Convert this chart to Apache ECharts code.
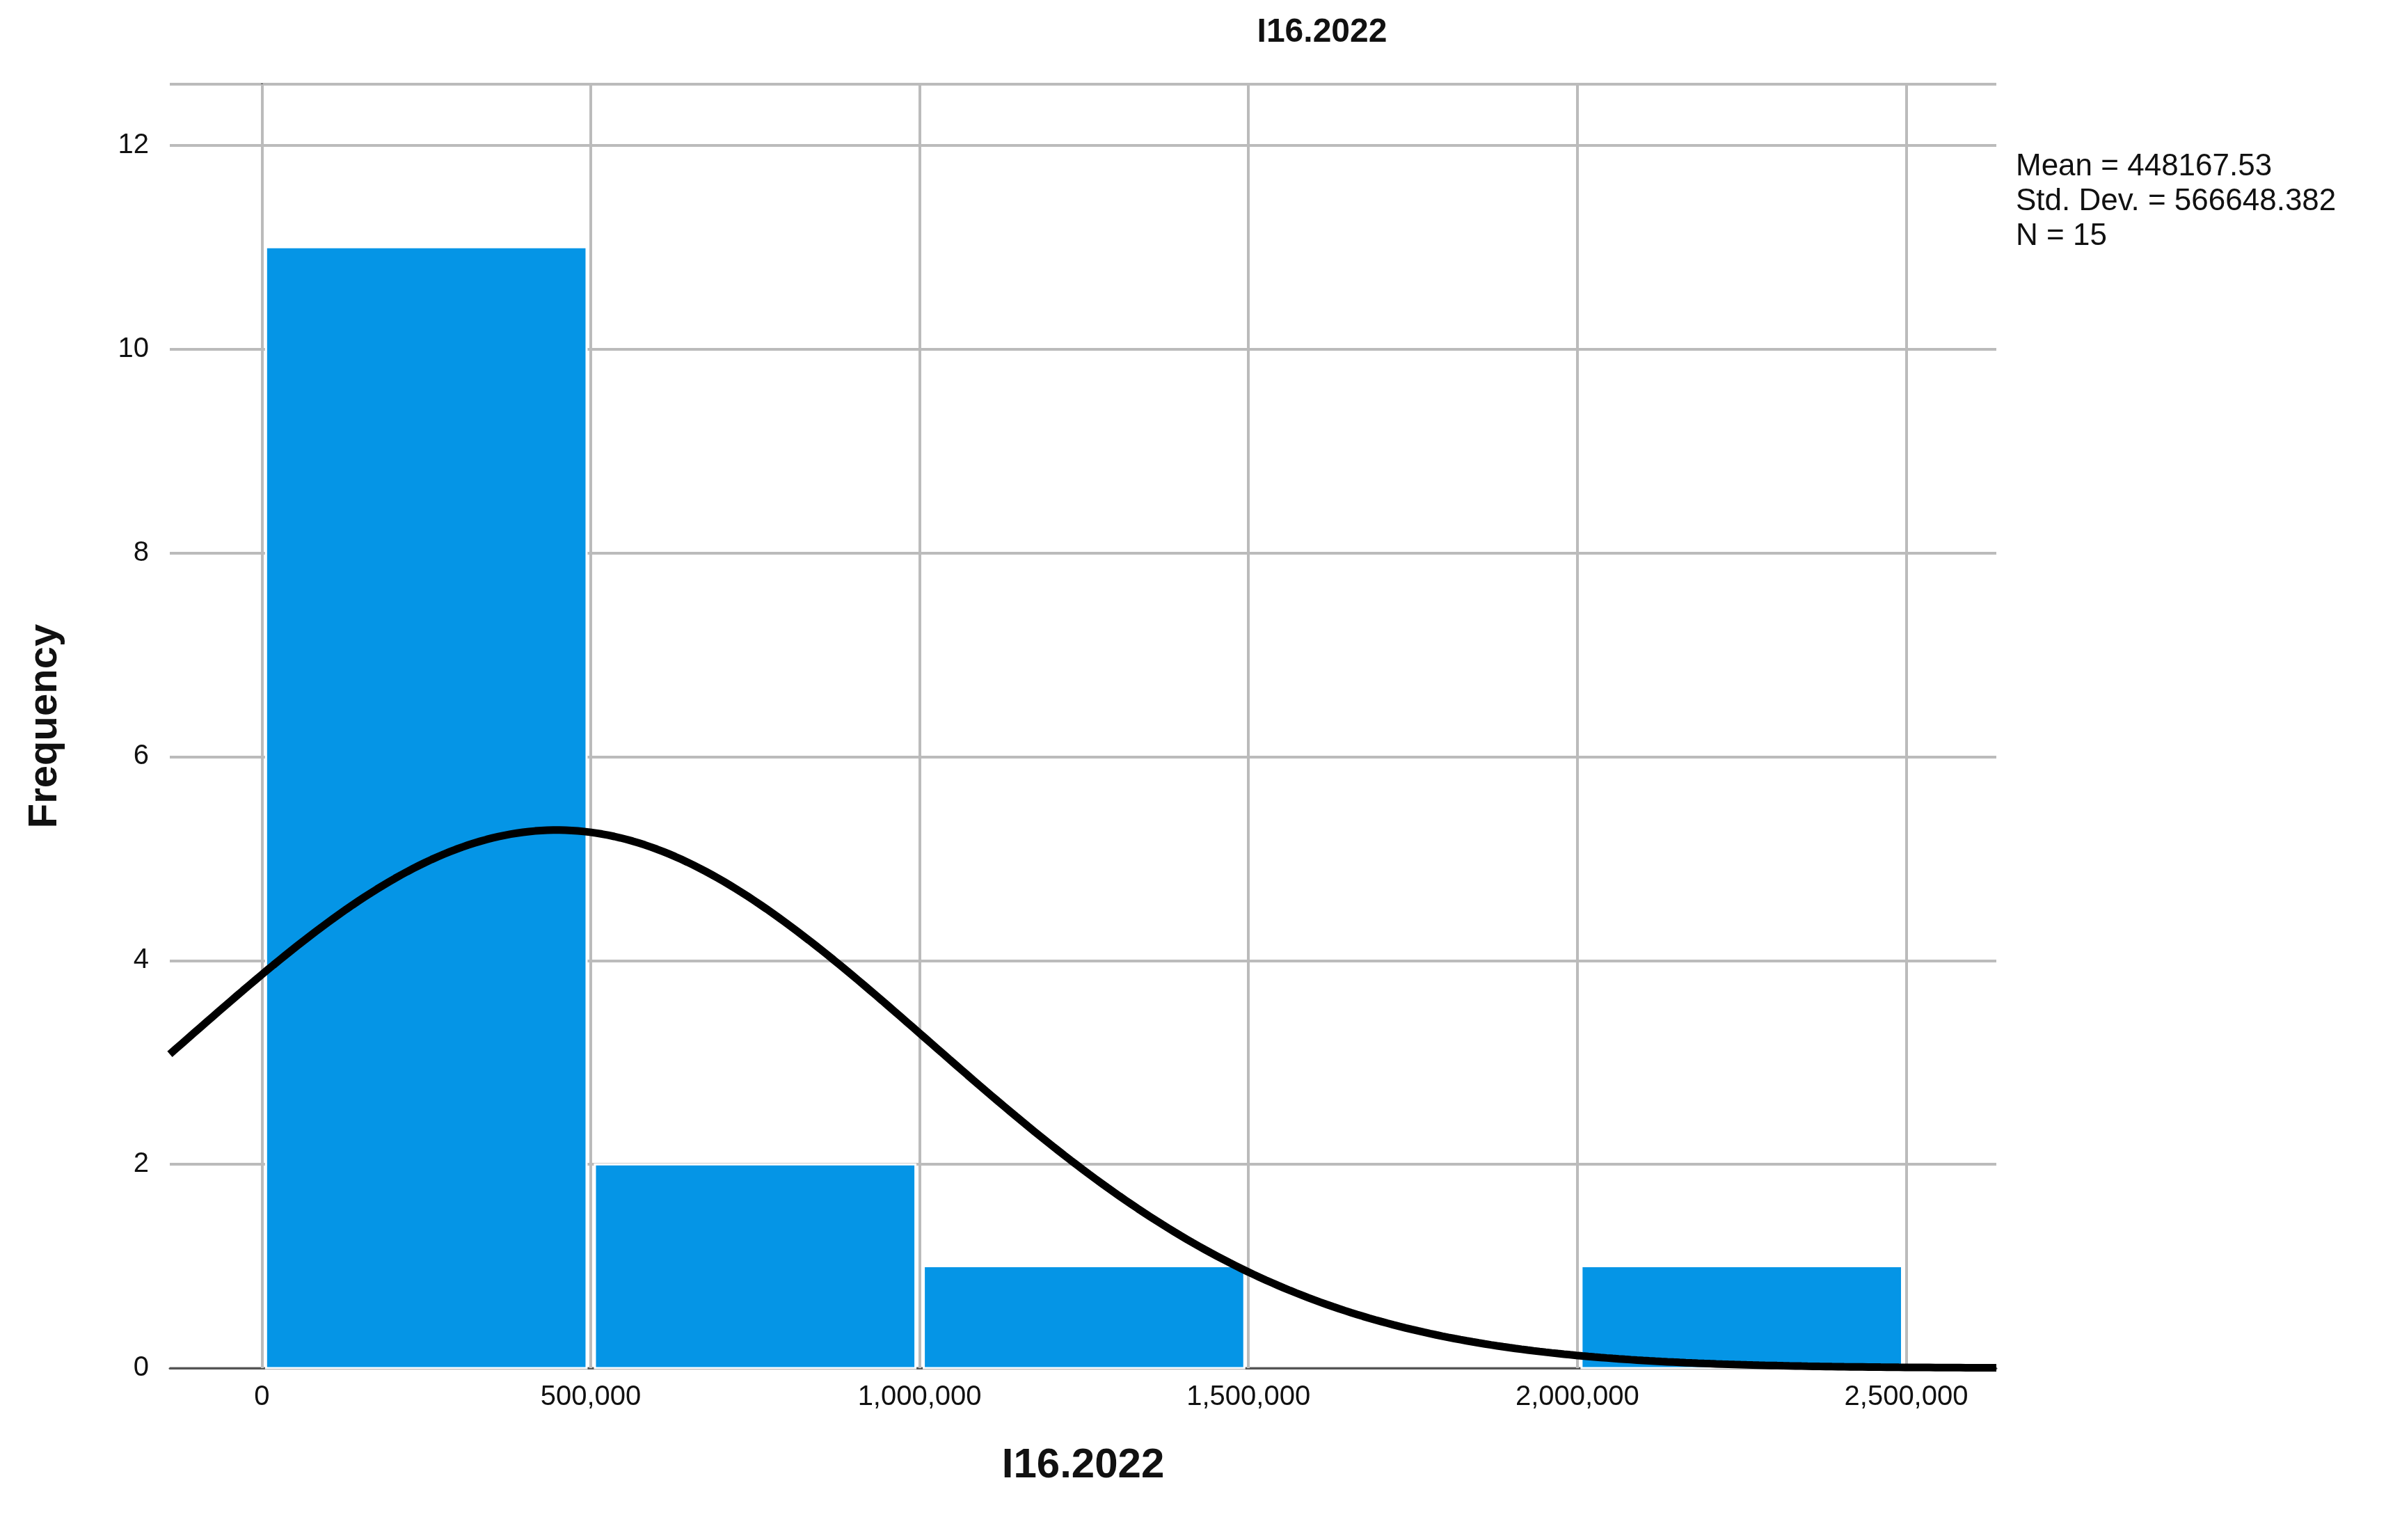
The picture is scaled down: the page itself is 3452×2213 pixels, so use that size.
<!DOCTYPE html>
<html><head><meta charset="utf-8">
<script src="https://cdn.jsdelivr.net/npm/echarts@6/dist/echarts.min.js"></script>
<style>html,body{margin:0;padding:0;background:#fff}#c{width:3452px;height:2213px}</style>
</head><body><div id="c"></div>
<script>
const binStarts = [0, 500000, 1000000, 2000000];
const binWidth = 500000;
const counts = [11, 2, 1, 1];
const xTicks = [0, 500000, 1000000, 1500000, 2000000, 2500000];
const mean = 448167.53, sd = 566648.382, n = 15;
const xMin = -140000, xMax = 2637000;
const curve = [];
for (let i = 0; i <= 300; i++) {
  const x = xMin + (xMax - xMin) * i / 300;
  const y = n * binWidth / (sd * Math.sqrt(2 * Math.PI)) * Math.exp(-0.5 * ((x - mean) / sd) ** 2);
  curve.push([x, y]);
}
const bars = binStarts.map((s, i) => [s, s + binWidth, counts[i]]);
const chart = echarts.init(document.getElementById('c'));
chart.setOption({
  animation: false,
  title: { text: 'I16.2022', left: 1895, top: 18, textAlign: 'center',
    textStyle: { fontFamily: 'Liberation Sans', fontSize: 48, fontWeight: 'bold', color: '#111' } },
  graphic: [{ type: 'text', left: 2897, top: 215,
    style: { text: 'Mean = 448167.53\nStd. Dev. = 566648.382\nN = 15', font: '44px "Liberation Sans"', fill: '#111', lineHeight: 50 } }],
  grid: { left: 244, right: 583, top: 121, bottom: 247 },
  xAxis: { type: 'value', min: xMin, max: xMax,
    name: 'I16.2022', nameLocation: 'middle', nameGap: 110,
    nameTextStyle: { fontFamily: 'Liberation Sans', fontSize: 60, fontWeight: 'bold', color: '#111' },
    axisLine: { onZero: false, lineStyle: { color: '#555', width: 3 } },
    axisTick: { show: false }, splitLine: { show: false },
    axisLabel: { customValues: xTicks, fontFamily: 'Liberation Sans', fontSize: 40, color: '#111', margin: 22 } },
  yAxis: { type: 'value', min: 0, max: 12.6, interval: 2,
    name: 'Frequency', nameLocation: 'middle', nameGap: 150,
    nameTextStyle: { fontFamily: 'Liberation Sans', fontSize: 58, fontWeight: 'bold', color: '#111' },
    axisLine: { show: true, lineStyle: { color: '#555', width: 3 } },
    axisTick: { show: false },
    axisLabel: { fontFamily: 'Liberation Sans', fontSize: 40, color: '#111', margin: 30,
      formatter: v => (v % 2 === 0 ? v : '') },
    splitLine: { lineStyle: { color: '#bbb', width: 4 } } },
  series: [
    { type: 'line', data: [], silent: true,
      markLine: { symbol: 'none', silent: true, label: { show: false },
        lineStyle: { color: '#bbb', width: 4, type: 'solid' },
        data: xTicks.map(v => ({ xAxis: v })) } },
    { type: 'custom', data: bars, z: 3,
      renderItem: (p, api) => {
        const a = api.coord([api.value(0), api.value(2)]);
        const b = api.coord([api.value(1), 0]);
        return { type: 'rect', shape: { x: a[0] + 6, y: a[1], width: b[0] - a[0] - 12, height: b[1] - a[1] },
          style: { fill: '#0595e6', stroke: '#fff', lineWidth: 3 } };
      } },
    { type: 'line', data: curve, showSymbol: false, z: 5, smooth: false,
      lineStyle: { color: '#000', width: 11 } }
  ]
});
</script></body></html>
